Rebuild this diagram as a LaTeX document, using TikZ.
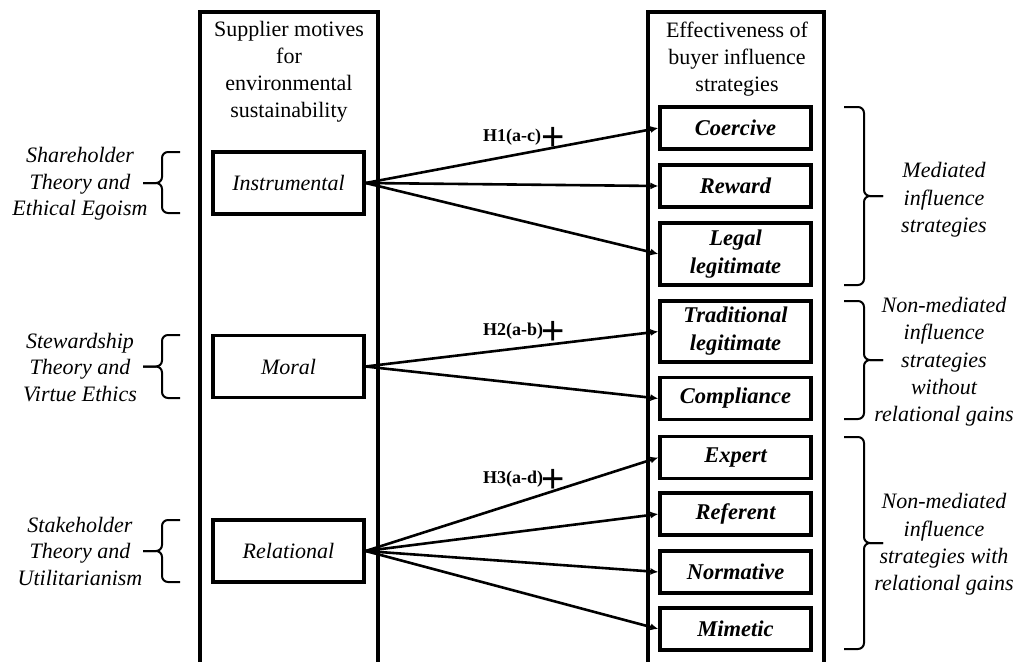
\documentclass[tikz,border=0pt]{standalone}
\usepackage{fontspec}
\setmainfont{Liberation Serif}
\newfontfamily\plusfont{Liberation Sans}
\usetikzlibrary{arrows.meta}
\begin{document}
\begin{tikzpicture}[x=1pt,y=-1pt,
  column/.style={draw, line width=3.2pt},
  lbox/.style={draw, line width=3.2pt, minimum width=151pt, minimum height=62pt,
    inner sep=0pt, font=\fontsize{22}{27}\selectfont\itshape},
  rbox/.style={draw, line width=3.2pt, minimum width=151pt, minimum height=42pt,
    inner sep=0pt, align=center, font=\fontsize{22.5}{28}\selectfont\bfseries\itshape},
  head/.style={inner sep=0pt, align=center, font=\fontsize{22}{27}\selectfont},
  side/.style={inner sep=0pt, align=center, font=\fontsize{22}{26.5}\selectfont\itshape},
  group/.style={inner sep=0pt, align=center, font=\fontsize{22}{27.3}\selectfont\itshape},
  hyp/.style={inner sep=0pt, anchor=base west, font=\fontsize{18}{18}\selectfont\bfseries},
  plus/.style={inner sep=0pt, font=\fontsize{40}{40}\plusfont},
  arr/.style={line width=2.6pt, -{Latex[length=8pt,width=7pt]}},
  brace/.style={line width=2pt, rounded corners=6pt}]
\clip (0,0) rectangle (1019,661);
\fill[white] (0,0) rectangle (1019,661);

% two open-bottomed columns
\draw[column] (200,670) -- (200,12) -- (378,12) -- (378,670);
\draw[column] (648,670) -- (648,12) -- (824,12) -- (824,670);

% column headings
\node[head] (lhead) at (289,72) {Supplier motives\\for\\environmental\\sustainability};
\node[head] (rhead) at (737,59) {Effectiveness of\\buyer influence\\strategies};

% supplier motives
\node[lbox] (ins) at (288.5,183) {Instrumental};
\node[lbox] (mor) at (288.5,366.5) {Moral};
\node[lbox] (rel) at (288.5,551) {Relational};

% buyer influence strategies
\node[rbox] (coe) at (735.5,128) {Coercive};
\node[rbox] (rew) at (735.5,186) {Reward};
\node[rbox, minimum height=62pt] (leg) at (735.5,254) {Legal\\legitimate};
\node[rbox, minimum height=61pt] (tra) at (735.5,331.5) {Traditional\\legitimate};
\node[rbox] (com) at (735.5,398.5) {Compliance};
\node[rbox] (exp) at (735.5,457.5) {Expert};
\node[rbox] (ref) at (735.5,514) {Referent};
\node[rbox] (nor) at (735.5,572) {Normative};
\node[rbox] (mim) at (735.5,629) {Mimetic};

% hypothesised links
\draw[arr] (ins.east) -- (coe.west);
\draw[arr] (ins.east) -- (rew.west);
\draw[arr] (ins.east) -- (leg.west);
\draw[arr] (mor.east) -- (tra.west);
\draw[arr] (mor.east) -- (com.west);
\draw[arr] (rel.east) -- (exp.west);
\draw[arr] (rel.east) -- (ref.west);
\draw[arr] (rel.east) -- (nor.west);
\draw[arr] (rel.east) -- (mim.west);

% hypothesis labels
\node[hyp] (h1) at (483,141) {H1(a-c)};
\node[plus] (p1) at (553,139) {+};
\node[hyp] (h2) at (483,335) {H2(a-b)};
\node[plus] (p2) at (553,333) {+};
\node[hyp] (h3) at (483,483) {H3(a-d)};
\node[plus] (p3) at (553,481) {+};

% ethical theories on the left
\node[side] (t1) at (80,184) {Shareholder\\Theory and\\Ethical Egoism};
\node[side] (t2) at (80,367.5) {Stewardship\\Theory and\\Virtue Ethics};
\node[side] (t3) at (80,551) {Stakeholder\\Theory and\\Utilitarianism};

\draw[brace] (180,152) -- (162,152) -- (162,183) -- (143,183);
\draw[brace] (180,213) -- (162,213) -- (162,183) -- (143,183);
\draw[brace] (180,335) -- (162,335) -- (162,366.5) -- (143,366.5);
\draw[brace] (180,398) -- (162,398) -- (162,366.5) -- (143,366.5);
\draw[brace] (180,520) -- (162,520) -- (162,551) -- (143,551);
\draw[brace] (180,582) -- (162,582) -- (162,551) -- (143,551);

% strategy groups on the right
\draw[brace] (844,107) -- (864,107) -- (864,196) -- (883,196);
\draw[brace] (844,285) -- (864,285) -- (864,196) -- (883,196);
\draw[brace] (844,301) -- (864,301) -- (864,360) -- (883,360);
\draw[brace] (844,419) -- (864,419) -- (864,360) -- (883,360);
\draw[brace] (844,437) -- (864,437) -- (864,543) -- (883,543);
\draw[brace] (844,649) -- (864,649) -- (864,543) -- (883,543);

\node[group] (g1) at (944,200) {Mediated\\influence\\strategies};
\node[group] (g2) at (944,362) {Non-mediated\\influence\\strategies\\without\\relational gains};
\node[group] (g3) at (944,544.5) {Non-mediated\\influence\\strategies with\\relational gains};
\end{tikzpicture}
\end{document}
